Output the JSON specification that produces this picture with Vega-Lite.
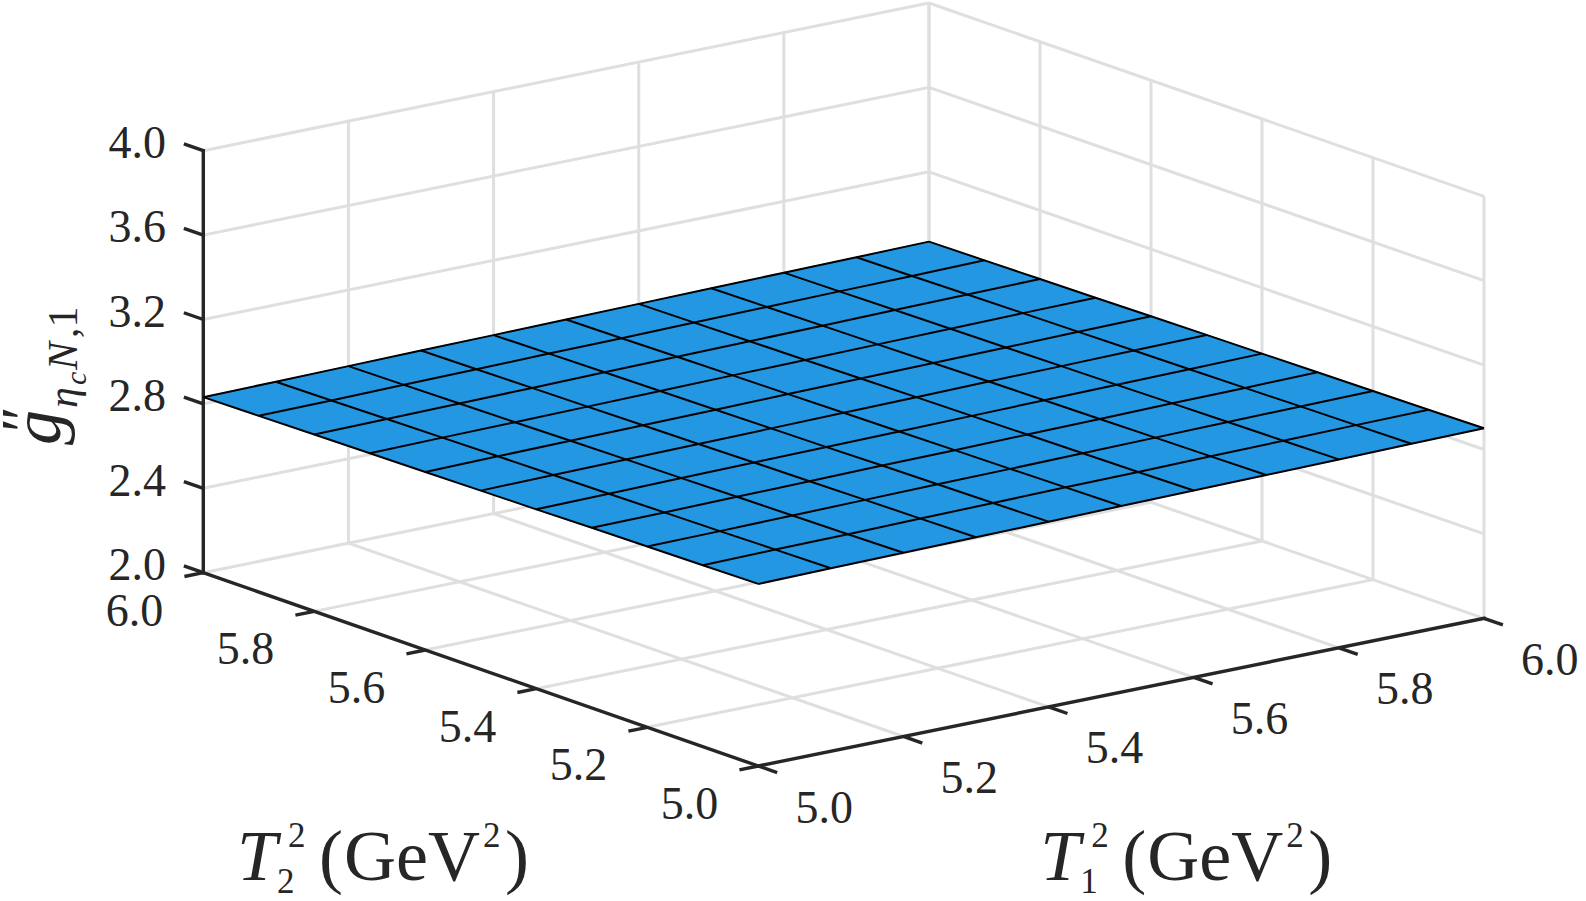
{
  "$schema": "https://vega.github.io/schema/vega-lite/v6.json",
  "width": 1586,
  "height": 901,
  "padding": 0,
  "autosize": {"type": "none"},
  "background": "white",
  "config": {"view": {"stroke": null}},
  "datasets": {
    "surf": [
      {"t1":5.0,"t2":5.0,"g":2.863},{"t1":5.1,"t2":5.0,"g":2.867},{"t1":5.2,"t2":5.0,"g":2.871},{"t1":5.3,"t2":5.0,"g":2.874},{"t1":5.4,"t2":5.0,"g":2.878},{"t1":5.5,"t2":5.0,"g":2.882},{"t1":5.6,"t2":5.0,"g":2.886},{"t1":5.7,"t2":5.0,"g":2.889},{"t1":5.8,"t2":5.0,"g":2.893},{"t1":5.9,"t2":5.0,"g":2.897},{"t1":6.0,"t2":5.0,"g":2.901},
      {"t1":5.0,"t2":5.1,"g":2.860},{"t1":5.1,"t2":5.1,"g":2.864},{"t1":5.2,"t2":5.1,"g":2.867},{"t1":5.3,"t2":5.1,"g":2.871},{"t1":5.4,"t2":5.1,"g":2.875},{"t1":5.5,"t2":5.1,"g":2.879},{"t1":5.6,"t2":5.1,"g":2.882},{"t1":5.7,"t2":5.1,"g":2.886},{"t1":5.8,"t2":5.1,"g":2.890},{"t1":5.9,"t2":5.1,"g":2.894},{"t1":6.0,"t2":5.1,"g":2.897},
      {"t1":5.0,"t2":5.2,"g":2.857},{"t1":5.1,"t2":5.2,"g":2.860},{"t1":5.2,"t2":5.2,"g":2.864},{"t1":5.3,"t2":5.2,"g":2.868},{"t1":5.4,"t2":5.2,"g":2.872},{"t1":5.5,"t2":5.2,"g":2.875},{"t1":5.6,"t2":5.2,"g":2.879},{"t1":5.7,"t2":5.2,"g":2.883},{"t1":5.8,"t2":5.2,"g":2.887},{"t1":5.9,"t2":5.2,"g":2.891},{"t1":6.0,"t2":5.2,"g":2.894},
      {"t1":5.0,"t2":5.3,"g":2.854},{"t1":5.1,"t2":5.3,"g":2.857},{"t1":5.2,"t2":5.3,"g":2.861},{"t1":5.3,"t2":5.3,"g":2.865},{"t1":5.4,"t2":5.3,"g":2.869},{"t1":5.5,"t2":5.3,"g":2.872},{"t1":5.6,"t2":5.3,"g":2.876},{"t1":5.7,"t2":5.3,"g":2.880},{"t1":5.8,"t2":5.3,"g":2.884},{"t1":5.9,"t2":5.3,"g":2.887},{"t1":6.0,"t2":5.3,"g":2.891},
      {"t1":5.0,"t2":5.4,"g":2.850},{"t1":5.1,"t2":5.4,"g":2.854},{"t1":5.2,"t2":5.4,"g":2.858},{"t1":5.3,"t2":5.4,"g":2.862},{"t1":5.4,"t2":5.4,"g":2.865},{"t1":5.5,"t2":5.4,"g":2.869},{"t1":5.6,"t2":5.4,"g":2.873},{"t1":5.7,"t2":5.4,"g":2.877},{"t1":5.8,"t2":5.4,"g":2.880},{"t1":5.9,"t2":5.4,"g":2.884},{"t1":6.0,"t2":5.4,"g":2.888},
      {"t1":5.0,"t2":5.5,"g":2.847},{"t1":5.1,"t2":5.5,"g":2.851},{"t1":5.2,"t2":5.5,"g":2.855},{"t1":5.3,"t2":5.5,"g":2.858},{"t1":5.4,"t2":5.5,"g":2.862},{"t1":5.5,"t2":5.5,"g":2.866},{"t1":5.6,"t2":5.5,"g":2.870},{"t1":5.7,"t2":5.5,"g":2.874},{"t1":5.8,"t2":5.5,"g":2.877},{"t1":5.9,"t2":5.5,"g":2.881},{"t1":6.0,"t2":5.5,"g":2.885},
      {"t1":5.0,"t2":5.6,"g":2.844},{"t1":5.1,"t2":5.6,"g":2.848},{"t1":5.2,"t2":5.6,"g":2.852},{"t1":5.3,"t2":5.6,"g":2.855},{"t1":5.4,"t2":5.6,"g":2.859},{"t1":5.5,"t2":5.6,"g":2.863},{"t1":5.6,"t2":5.6,"g":2.867},{"t1":5.7,"t2":5.6,"g":2.870},{"t1":5.8,"t2":5.6,"g":2.874},{"t1":5.9,"t2":5.6,"g":2.878},{"t1":6.0,"t2":5.6,"g":2.882},
      {"t1":5.0,"t2":5.7,"g":2.841},{"t1":5.1,"t2":5.7,"g":2.845},{"t1":5.2,"t2":5.7,"g":2.848},{"t1":5.3,"t2":5.7,"g":2.852},{"t1":5.4,"t2":5.7,"g":2.856},{"t1":5.5,"t2":5.7,"g":2.860},{"t1":5.6,"t2":5.7,"g":2.863},{"t1":5.7,"t2":5.7,"g":2.867},{"t1":5.8,"t2":5.7,"g":2.871},{"t1":5.9,"t2":5.7,"g":2.875},{"t1":6.0,"t2":5.7,"g":2.878},
      {"t1":5.0,"t2":5.8,"g":2.838},{"t1":5.1,"t2":5.8,"g":2.842},{"t1":5.2,"t2":5.8,"g":2.845},{"t1":5.3,"t2":5.8,"g":2.849},{"t1":5.4,"t2":5.8,"g":2.853},{"t1":5.5,"t2":5.8,"g":2.857},{"t1":5.6,"t2":5.8,"g":2.860},{"t1":5.7,"t2":5.8,"g":2.864},{"t1":5.8,"t2":5.8,"g":2.868},{"t1":5.9,"t2":5.8,"g":2.872},{"t1":6.0,"t2":5.8,"g":2.875},
      {"t1":5.0,"t2":5.9,"g":2.835},{"t1":5.1,"t2":5.9,"g":2.838},{"t1":5.2,"t2":5.9,"g":2.842},{"t1":5.3,"t2":5.9,"g":2.846},{"t1":5.4,"t2":5.9,"g":2.850},{"t1":5.5,"t2":5.9,"g":2.853},{"t1":5.6,"t2":5.9,"g":2.857},{"t1":5.7,"t2":5.9,"g":2.861},{"t1":5.8,"t2":5.9,"g":2.865},{"t1":5.9,"t2":5.9,"g":2.868},{"t1":6.0,"t2":5.9,"g":2.872},
      {"t1":5.0,"t2":6.0,"g":2.832},{"t1":5.1,"t2":6.0,"g":2.835},{"t1":5.2,"t2":6.0,"g":2.839},{"t1":5.3,"t2":6.0,"g":2.843},{"t1":5.4,"t2":6.0,"g":2.846},{"t1":5.5,"t2":6.0,"g":2.850},{"t1":5.6,"t2":6.0,"g":2.854},{"t1":5.7,"t2":6.0,"g":2.858},{"t1":5.8,"t2":6.0,"g":2.862},{"t1":5.9,"t2":6.0,"g":2.865},{"t1":6.0,"t2":6.0,"g":2.869}
    ],
    "frame": [
      {"part":"grid","t1a":5.0,"t2a":6,"za":2,"t1b":5.0,"t2b":6,"zb":4},
      {"part":"grid","t1a":5.2,"t2a":6,"za":2,"t1b":5.2,"t2b":6,"zb":4},
      {"part":"grid","t1a":5.4,"t2a":6,"za":2,"t1b":5.4,"t2b":6,"zb":4},
      {"part":"grid","t1a":5.6,"t2a":6,"za":2,"t1b":5.6,"t2b":6,"zb":4},
      {"part":"grid","t1a":5.8,"t2a":6,"za":2,"t1b":5.8,"t2b":6,"zb":4},
      {"part":"grid","t1a":6.0,"t2a":6,"za":2,"t1b":6.0,"t2b":6,"zb":4},
      {"part":"grid","t1a":5,"t2a":6,"za":2.0,"t1b":6,"t2b":6,"zb":2.0},
      {"part":"grid","t1a":5,"t2a":6,"za":2.4,"t1b":6,"t2b":6,"zb":2.4},
      {"part":"grid","t1a":5,"t2a":6,"za":2.8,"t1b":6,"t2b":6,"zb":2.8},
      {"part":"grid","t1a":5,"t2a":6,"za":3.2,"t1b":6,"t2b":6,"zb":3.2},
      {"part":"grid","t1a":5,"t2a":6,"za":3.6,"t1b":6,"t2b":6,"zb":3.6},
      {"part":"grid","t1a":5,"t2a":6,"za":4.0,"t1b":6,"t2b":6,"zb":4.0},
      {"part":"grid","t1a":6,"t2a":5.0,"za":2,"t1b":6,"t2b":5.0,"zb":4},
      {"part":"grid","t1a":6,"t2a":5.2,"za":2,"t1b":6,"t2b":5.2,"zb":4},
      {"part":"grid","t1a":6,"t2a":5.4,"za":2,"t1b":6,"t2b":5.4,"zb":4},
      {"part":"grid","t1a":6,"t2a":5.6,"za":2,"t1b":6,"t2b":5.6,"zb":4},
      {"part":"grid","t1a":6,"t2a":5.8,"za":2,"t1b":6,"t2b":5.8,"zb":4},
      {"part":"grid","t1a":6,"t2a":6.0,"za":2,"t1b":6,"t2b":6.0,"zb":4},
      {"part":"grid","t1a":6,"t2a":5,"za":2.0,"t1b":6,"t2b":6,"zb":2.0},
      {"part":"grid","t1a":6,"t2a":5,"za":2.4,"t1b":6,"t2b":6,"zb":2.4},
      {"part":"grid","t1a":6,"t2a":5,"za":2.8,"t1b":6,"t2b":6,"zb":2.8},
      {"part":"grid","t1a":6,"t2a":5,"za":3.2,"t1b":6,"t2b":6,"zb":3.2},
      {"part":"grid","t1a":6,"t2a":5,"za":3.6,"t1b":6,"t2b":6,"zb":3.6},
      {"part":"grid","t1a":6,"t2a":5,"za":4.0,"t1b":6,"t2b":6,"zb":4.0},
      {"part":"grid","t1a":5.2,"t2a":5,"za":2,"t1b":5.2,"t2b":6,"zb":2},
      {"part":"grid","t1a":5.4,"t2a":5,"za":2,"t1b":5.4,"t2b":6,"zb":2},
      {"part":"grid","t1a":5.6,"t2a":5,"za":2,"t1b":5.6,"t2b":6,"zb":2},
      {"part":"grid","t1a":5.8,"t2a":5,"za":2,"t1b":5.8,"t2b":6,"zb":2},
      {"part":"grid","t1a":5,"t2a":5.2,"za":2,"t1b":6,"t2b":5.2,"zb":2},
      {"part":"grid","t1a":5,"t2a":5.4,"za":2,"t1b":6,"t2b":5.4,"zb":2},
      {"part":"grid","t1a":5,"t2a":5.6,"za":2,"t1b":6,"t2b":5.6,"zb":2},
      {"part":"grid","t1a":5,"t2a":5.8,"za":2,"t1b":6,"t2b":5.8,"zb":2},
      {"part":"axis","t1a":5,"t2a":6,"za":2,"t1b":5,"t2b":6,"zb":4},
      {"part":"axis","t1a":5,"t2a":5,"za":2,"t1b":5,"t2b":6,"zb":2},
      {"part":"axis","t1a":5,"t2a":5,"za":2,"t1b":6,"t2b":5,"zb":2}
    ],
    "ticks": [
      {"axis":"z","v":2.0},{"axis":"z","v":2.4},{"axis":"z","v":2.8},{"axis":"z","v":3.2},{"axis":"z","v":3.6},{"axis":"z","v":4.0},
      {"axis":"T2","v":5.0},{"axis":"T2","v":5.2},{"axis":"T2","v":5.4},{"axis":"T2","v":5.6},{"axis":"T2","v":5.8},{"axis":"T2","v":6.0},
      {"axis":"T1","v":5.0},{"axis":"T1","v":5.2},{"axis":"T1","v":5.4},{"axis":"T1","v":5.6},{"axis":"T1","v":5.8},{"axis":"T1","v":6.0}
    ],
    "anchors": [
      {"id":"T2","t1":5,"t2":5.5,"z":2},
      {"id":"T1","t1":5.5,"t2":5,"z":2},
      {"id":"g","t1":5,"t2":6,"z":3}
    ]
  },
  "encoding": {
    "x": {"field": "px", "type": "quantitative", "scale": {"domain": [0, 1586], "nice": false, "zero": false}, "axis": null},
    "y": {"field": "py", "type": "quantitative", "scale": {"domain": [0, 901], "nice": false, "zero": false, "reverse": true}, "axis": null}
  },
  "layer": [
    {
      "data": {"name": "frame"},
      "transform": [
        {"calculate": "758.3+725.7*(datum.t1a-5)-555*(datum.t2a-5)", "as": "px"},
        {"calculate": "766-147.7*(datum.t1a-5)-193.3*(datum.t2a-5)-211*(datum.za-2)", "as": "py"},
        {"calculate": "758.3+725.7*(datum.t1b-5)-555*(datum.t2b-5)", "as": "px2"},
        {"calculate": "766-147.7*(datum.t1b-5)-193.3*(datum.t2b-5)-211*(datum.zb-2)", "as": "py2"}
      ],
      "encoding": {"x2": {"field": "px2"}, "y2": {"field": "py2"}},
      "layer": [
        {"transform": [{"filter": "datum.part == 'grid'"}], "mark": {"type": "rule", "color": "#dfdfdf", "strokeWidth": 3}},
        {"transform": [{"filter": "datum.part == 'axis'"}], "mark": {"type": "rule", "color": "#262626", "strokeWidth": 3.4, "strokeCap": "square"}}
      ]
    },
    {
      "data": {"name": "ticks"},
      "transform": [
        {"calculate": "datum.axis == 'T1' ? datum.v : 5", "as": "t1"},
        {"calculate": "datum.axis == 'T2' ? datum.v : (datum.axis == 'z' ? 6 : 5)", "as": "t2"},
        {"calculate": "datum.axis == 'z' ? datum.v : 2", "as": "z"},
        {"calculate": "datum.t1 - (datum.axis == 'T2' ? 0.026 : 0)", "as": "e1"},
        {"calculate": "datum.t2 + (datum.axis == 'z' ? 0.035 : (datum.axis == 'T1' ? -0.034 : 0))", "as": "e2"},
        {"calculate": "758.3+725.7*(datum.t1-5)-555*(datum.t2-5)", "as": "px0"},
        {"calculate": "766-147.7*(datum.t1-5)-193.3*(datum.t2-5)-211*(datum.z-2)", "as": "py0"},
        {"calculate": "758.3+725.7*(datum.e1-5)-555*(datum.e2-5)", "as": "px"},
        {"calculate": "766-147.7*(datum.e1-5)-193.3*(datum.e2-5)-211*(datum.z-2)", "as": "py"}
      ],
      "layer": [
        {"mark": {"type": "rule", "color": "#262626", "strokeWidth": 3.4}, "encoding": {"x2": {"field": "px0"}, "y2": {"field": "py0"}}},
        {
          "transform": [{"filter": "datum.axis == 'z'"}],
          "mark": {"type": "text", "align": "right", "baseline": "middle", "dx": -18, "font": "Liberation Serif", "fontSize": 46, "color": "#262626"},
          "encoding": {"text": {"field": "v", "type": "quantitative", "format": ".1f"}}
        },
        {
          "transform": [{"filter": "datum.axis == 'T2'"}],
          "mark": {"type": "text", "align": "center", "baseline": "middle", "dx": -50, "dy": 35, "font": "Liberation Serif", "fontSize": 46, "color": "#262626"},
          "encoding": {"text": {"field": "v", "type": "quantitative", "format": ".1f"}}
        },
        {
          "transform": [{"filter": "datum.axis == 'T1'"}],
          "mark": {"type": "text", "align": "center", "baseline": "middle", "dx": 47, "dy": 36, "font": "Liberation Serif", "fontSize": 46, "color": "#262626"},
          "encoding": {"text": {"field": "v", "type": "quantitative", "format": ".1f"}}
        }
      ]
    },
    {
      "data": {"name": "surf"},
      "transform": [
        {"calculate": "758.3+725.7*(datum.t1-5)-555*(datum.t2-5)", "as": "px"},
        {"calculate": "766-147.7*(datum.t1-5)-193.3*(datum.t2-5)-211*(datum.g-2)", "as": "py"}
      ],
      "layer": [
        {
          "transform": [
            {"filter": "datum.t1 == 5 || datum.t1 == 6 || datum.t2 == 5 || datum.t2 == 6"},
            {"calculate": "atan2(datum.t2-5.5, datum.t1-5.5)", "as": "ang"}
          ],
          "mark": {"type": "line", "fill": "#2497e3", "stroke": "#2497e3", "strokeWidth": 1},
          "encoding": {"order": {"field": "ang", "type": "quantitative"}}
        },
        {
          "mark": {"type": "line", "color": "#000000", "strokeWidth": 2},
          "encoding": {"detail": {"field": "t1", "type": "nominal"}, "order": {"field": "t2", "type": "quantitative"}}
        },
        {
          "mark": {"type": "line", "color": "#000000", "strokeWidth": 2},
          "encoding": {"detail": {"field": "t2", "type": "nominal"}, "order": {"field": "t1", "type": "quantitative"}}
        }
      ]
    },
    {
      "data": {"name": "anchors"},
      "transform": [
        {"calculate": "758.3+725.7*(datum.t1-5)-555*(datum.t2-5)", "as": "px"},
        {"calculate": "766-147.7*(datum.t1-5)-193.3*(datum.t2-5)-211*(datum.z-2)", "as": "py"}
      ],
      "layer": [
        {"transform": [{"filter": "datum.id == 'T2'"}], "mark": {"type": "text", "text": "T", "fontStyle": "italic", "font": "Liberation Serif", "fontSize": 72, "align": "left", "baseline": "alphabetic", "dx": -243.8, "dy": 210.6, "color": "#262626"}},
        {"transform": [{"filter": "datum.id == 'T2'"}], "mark": {"type": "text", "text": "2", "font": "Liberation Serif", "fontSize": 35, "align": "left", "baseline": "alphabetic", "dx": -192.8, "dy": 177.6, "color": "#262626"}},
        {"transform": [{"filter": "datum.id == 'T2'"}], "mark": {"type": "text", "text": "2", "font": "Liberation Serif", "fontSize": 35, "align": "left", "baseline": "alphabetic", "dx": -203.8, "dy": 223.6, "color": "#262626"}},
        {"transform": [{"filter": "datum.id == 'T2'"}], "mark": {"type": "text", "text": "(", "font": "Liberation Serif", "fontSize": 72, "align": "left", "baseline": "alphabetic", "dx": -161.8, "dy": 210.6, "color": "#262626"}},
        {"transform": [{"filter": "datum.id == 'T2'"}], "mark": {"type": "text", "text": "GeV", "font": "Liberation Serif", "fontSize": 72, "align": "left", "baseline": "alphabetic", "dx": -136.8, "dy": 210.6, "color": "#262626"}},
        {"transform": [{"filter": "datum.id == 'T2'"}], "mark": {"type": "text", "text": "2", "font": "Liberation Serif", "fontSize": 35, "align": "left", "baseline": "alphabetic", "dx": 2.2, "dy": 177.6, "color": "#262626"}},
        {"transform": [{"filter": "datum.id == 'T2'"}], "mark": {"type": "text", "text": ")", "font": "Liberation Serif", "fontSize": 72, "align": "left", "baseline": "alphabetic", "dx": 24.2, "dy": 210.6, "color": "#262626"}},
        {"transform": [{"filter": "datum.id == 'T1'"}], "mark": {"type": "text", "text": "T", "fontStyle": "italic", "font": "Liberation Serif", "fontSize": 72, "align": "left", "baseline": "alphabetic", "dx": -80.9, "dy": 187.9, "color": "#262626"}},
        {"transform": [{"filter": "datum.id == 'T1'"}], "mark": {"type": "text", "text": "2", "font": "Liberation Serif", "fontSize": 35, "align": "left", "baseline": "alphabetic", "dx": -29.9, "dy": 154.9, "color": "#262626"}},
        {"transform": [{"filter": "datum.id == 'T1'"}], "mark": {"type": "text", "text": "1", "font": "Liberation Serif", "fontSize": 35, "align": "left", "baseline": "alphabetic", "dx": -40.9, "dy": 200.9, "color": "#262626"}},
        {"transform": [{"filter": "datum.id == 'T1'"}], "mark": {"type": "text", "text": "(", "font": "Liberation Serif", "fontSize": 72, "align": "left", "baseline": "alphabetic", "dx": 1.1, "dy": 187.9, "color": "#262626"}},
        {"transform": [{"filter": "datum.id == 'T1'"}], "mark": {"type": "text", "text": "GeV", "font": "Liberation Serif", "fontSize": 72, "align": "left", "baseline": "alphabetic", "dx": 26.1, "dy": 187.9, "color": "#262626"}},
        {"transform": [{"filter": "datum.id == 'T1'"}], "mark": {"type": "text", "text": "2", "font": "Liberation Serif", "fontSize": 35, "align": "left", "baseline": "alphabetic", "dx": 165.1, "dy": 154.9, "color": "#262626"}},
        {"transform": [{"filter": "datum.id == 'T1'"}], "mark": {"type": "text", "text": ")", "font": "Liberation Serif", "fontSize": 72, "align": "left", "baseline": "alphabetic", "dx": 187.1, "dy": 187.9, "color": "#262626"}},
        {"transform": [{"filter": "datum.id == 'g'"}], "mark": {"type": "text", "text": "g", "angle": 270, "fontStyle": "italic", "font": "Liberation Serif", "fontSize": 70, "align": "left", "baseline": "alphabetic", "dx": -83.3, "dy": -143.3, "color": "#262626"}},
        {"transform": [{"filter": "datum.id == 'g'"}], "mark": {"type": "text", "text": "″", "angle": 270, "font": "Liberation Serif", "fontSize": 62, "align": "left", "baseline": "alphabetic", "dx": -70.3, "dy": -160.3, "color": "#262626"}},
        {"transform": [{"filter": "datum.id == 'g'"}], "mark": {"type": "text", "text": "η", "angle": 270, "fontStyle": "italic", "font": "Liberation Serif", "fontSize": 42, "align": "left", "baseline": "alphabetic", "dx": -46.3, "dy": -126.3, "color": "#262626"}},
        {"transform": [{"filter": "datum.id == 'g'"}], "mark": {"type": "text", "text": "c", "angle": 270, "fontStyle": "italic", "font": "Liberation Serif", "fontSize": 30, "align": "left", "baseline": "alphabetic", "dx": -23.3, "dy": -117.3, "color": "#262626"}},
        {"transform": [{"filter": "datum.id == 'g'"}], "mark": {"type": "text", "text": "N", "angle": 270, "fontStyle": "italic", "font": "Liberation Serif", "fontSize": 42, "align": "left", "baseline": "alphabetic", "dx": -8.3, "dy": -126.3, "color": "#262626"}},
        {"transform": [{"filter": "datum.id == 'g'"}], "mark": {"type": "text", "text": ",1", "angle": 270, "font": "Liberation Serif", "fontSize": 42, "align": "left", "baseline": "alphabetic", "dx": 23.7, "dy": -126.3, "color": "#262626"}}
      ]
    }
  ]
}
